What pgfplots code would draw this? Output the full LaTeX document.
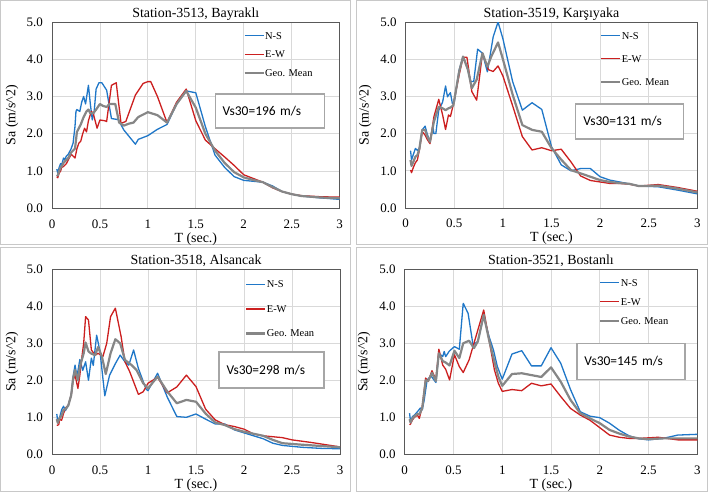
\documentclass[border=0pt]{standalone}
\usepackage{fontspec}
\setmainfont{Liberation Serif}
\newfontfamily\calibri{Carlito}
\usepackage{pgfplots}
\pgfplotsset{compat=1.18}
\definecolor{ns}{HTML}{1F77C8}
\definecolor{ew}{HTML}{CC1F1F}
\definecolor{gm}{HTML}{868686}
\definecolor{framec}{HTML}{C8C8C8}
\tikzset{vsbox/.style={draw=black!35, line width=1.2bp, fill=white, inner xsep=7.5bp, inner ysep=0pt,
    align=left, font=\calibri\fontsize{13.5}{13.5}\selectfont}}
\pgfplotsset{
  panel/.style={
    scale only axis, anchor=south west,
    xmin=0,xmax=3,ymin=0,ymax=5,
    xtick={0,0.5,1,1.5,2,2.5,3},
    xticklabels={0,0.5,1,1.5,2,2.5,3},
    ytick={0,1,2,3,4,5},
    yticklabels={0.0,1.0,2.0,3.0,4.0,5.0},
    major tick length=0pt,
    grid=major,
    major grid style={draw=black!15, line width=0.8bp},
    axis line style={draw=black!65, line width=0.9bp},
    tick label style={font=\fontsize{13}{13}\selectfont},
    xticklabel style={anchor=base, yshift=-20bp, inner sep=0pt},
    yticklabel style={anchor=east, inner sep=0pt, xshift=-9bp},
    xlabel={T (sec.)},
    ylabel={Sa (m/s\textasciicircum 2)},
    label style={font=\fontsize{14}{14}\selectfont},
    xlabel style={at={(axis description cs:0.5,0)}, anchor=base, yshift=-34bp, inner sep=0pt},
    ylabel style={at={(axis description cs:-0.139,0.5)}, anchor=center, inner sep=0pt},
    title style={at={(0.5,1)}, anchor=base, yshift=-1bp, inner sep=0pt, font=\fontsize{14}{14}\selectfont},
    legend cell align=left,
    legend image code/.code={\draw[##1] (0bp,0bp) -- (19bp,0bp);},
    legend style={draw=none, fill=none, inner sep=0pt, anchor=north west,
      font=\fontsize{10.5}{10.5}\selectfont,
      nodes={inner sep=0.5bp, text height=7bp, text depth=0bp}},
    clip mode=individual,
  },
  nsl/.style={color=ns, line width=1.3bp, line join=round},
  ewl/.style={color=ew, line width=1.3bp, line join=round},
  gml/.style={color=gm, line width=2.2bp, line join=round},
}
\begin{document}
\begin{tikzpicture}
\useasboundingbox (0,0) rectangle (708bp,492bp);
\fill[white] (0,0) rectangle (708bp,492bp);
\draw[framec, line width=1bp] (0.5bp,247bp) rectangle (350bp,491.5bp);
\draw[framec, line width=1bp] (356bp,247bp) rectangle (707.5bp,491.5bp);
\draw[framec, line width=1bp] (0.5bp,0.5bp) rectangle (350bp,244bp);
\draw[framec, line width=1bp] (356bp,0.5bp) rectangle (707.5bp,244bp);

% Panel 1
\begin{axis}[panel, at={(52bp,283.7bp)}, width=287.6bp, height=186.3bp,
  title={Station-3513, Bayraklı},
  legend style={at={(rel axis cs:0.665,0.949)}, row sep=10.5bp}]
\addplot[nsl] coordinates {(0.05,1.05)(0.06,0.95)(0.075,1.1)(0.09,1.2)(0.1,1.15)(0.11,1.25)(0.12,1.35)(0.13,1.3)(0.15,1.4)(0.17,1.45)(0.2,1.6)(0.22,1.75)(0.24,2.2)(0.25,2.6)(0.26,2.65)(0.29,2.6)(0.31,2.85)(0.33,3.0)(0.35,2.8)(0.38,3.3)(0.4,2.8)(0.42,2.37)(0.44,2.6)(0.46,3.2)(0.49,3.37)(0.52,3.37)(0.57,3.17)(0.62,2.41)(0.69,2.38)(0.75,2.1)(0.87,1.72)(0.9,1.85)(1.0,1.95)(1.1,2.12)(1.2,2.25)(1.3,2.8)(1.4,3.15)(1.5,3.1)(1.6,2.19)(1.7,1.43)(1.8,1.1)(1.9,0.85)(2.0,0.75)(2.2,0.7)(2.3,0.6)(2.4,0.45)(2.5,0.38)(2.6,0.33)(2.8,0.28)(3.0,0.24)};
\addlegendentry{N-S}
\addplot[ewl] coordinates {(0.05,0.85)(0.06,0.82)(0.075,0.95)(0.09,1.0)(0.1,1.1)(0.12,1.12)(0.15,1.2)(0.17,1.3)(0.2,1.45)(0.22,1.4)(0.24,1.35)(0.26,1.6)(0.28,1.75)(0.3,1.8)(0.32,2.0)(0.34,2.15)(0.36,2.05)(0.38,2.35)(0.41,2.6)(0.43,2.55)(0.45,2.35)(0.47,2.15)(0.5,2.37)(0.55,2.35)(0.57,2.33)(0.62,3.3)(0.67,3.37)(0.72,2.28)(0.77,2.33)(0.87,3.04)(0.95,3.35)(1.0,3.4)(1.03,3.4)(1.1,3.0)(1.2,2.3)(1.3,2.85)(1.4,3.2)(1.5,2.35)(1.6,1.83)(1.7,1.6)(1.8,1.38)(1.9,1.15)(2.0,0.9)(2.1,0.8)(2.2,0.7)(2.3,0.55)(2.4,0.45)(2.5,0.38)(2.6,0.34)(2.8,0.31)(3.0,0.3)};
\addlegendentry{E-W}
\addplot[gml] coordinates {(0.05,0.9)(0.06,0.88)(0.075,1.0)(0.09,1.1)(0.1,1.12)(0.12,1.22)(0.15,1.3)(0.17,1.35)(0.2,1.5)(0.22,1.55)(0.24,1.6)(0.26,2.05)(0.28,2.15)(0.3,2.25)(0.33,2.45)(0.36,2.6)(0.38,2.65)(0.4,2.55)(0.43,2.55)(0.46,2.65)(0.5,2.8)(0.53,2.75)(0.57,2.72)(0.6,2.8)(0.66,2.8)(0.7,2.3)(0.75,2.22)(0.8,2.27)(0.85,2.3)(0.9,2.45)(1.0,2.58)(1.1,2.5)(1.2,2.3)(1.3,2.8)(1.4,3.15)(1.5,2.7)(1.6,2.0)(1.7,1.55)(1.8,1.22)(1.9,0.97)(2.0,0.83)(2.1,0.76)(2.2,0.7)(2.3,0.57)(2.4,0.45)(2.5,0.38)(2.6,0.33)(2.8,0.29)(3.0,0.27)};
\addlegendentry{Geo. Mean}
\node[vsbox, text width=94bp, minimum height=34bp] at (axis cs:2.27,2.61) {Vs30=196 m/s};
\end{axis}

% Panel 2
\begin{axis}[panel, at={(405.7bp,284bp)}, width=291.6bp, height=186bp,
  title={Station-3519, Karşıyaka},
  legend style={at={(rel axis cs:0.666,0.949)}, row sep=15bp}]
\addplot[nsl] coordinates {(0.05,1.54)(0.06,1.29)(0.08,1.45)(0.1,1.6)(0.12,1.55)(0.14,1.6)(0.17,2.1)(0.2,2.2)(0.22,2.0)(0.25,1.78)(0.28,2.2)(0.29,2.0)(0.31,2.0)(0.34,2.63)(0.38,2.85)(0.41,3.28)(0.43,2.99)(0.46,3.1)(0.48,2.81)(0.5,2.85)(0.55,3.71)(0.59,4.07)(0.63,3.8)(0.67,3.4)(0.7,3.4)(0.74,4.27)(0.79,4.16)(0.84,3.66)(0.9,4.6)(0.95,5.0)(1.0,4.55)(1.1,3.4)(1.2,2.63)(1.3,2.83)(1.4,2.65)(1.5,1.65)(1.6,1.16)(1.7,1.0)(1.8,1.06)(1.9,1.06)(2.0,0.84)(2.1,0.75)(2.2,0.7)(2.3,0.65)(2.4,0.59)(2.6,0.57)(2.8,0.48)(3.0,0.38)};
\addlegendentry{N-S}
\addplot[ewl] coordinates {(0.05,1.02)(0.06,0.95)(0.08,1.1)(0.1,1.22)(0.12,1.29)(0.14,1.55)(0.17,2.05)(0.2,1.96)(0.22,1.85)(0.25,1.73)(0.29,2.45)(0.34,2.92)(0.38,2.5)(0.41,2.11)(0.44,2.5)(0.46,2.46)(0.49,2.78)(0.55,3.58)(0.59,4.05)(0.63,4.05)(0.68,3.13)(0.73,2.9)(0.79,4.16)(0.85,3.72)(0.9,3.67)(0.95,3.82)(1.0,3.55)(1.1,2.75)(1.2,1.92)(1.3,1.56)(1.4,1.62)(1.5,1.54)(1.6,1.58)(1.7,1.24)(1.8,0.86)(1.9,0.74)(2.0,0.7)(2.1,0.66)(2.2,0.66)(2.3,0.64)(2.4,0.59)(2.6,0.63)(2.8,0.55)(3.0,0.45)};
\addlegendentry{E-W}
\addplot[gml] coordinates {(0.05,1.29)(0.06,1.13)(0.08,1.25)(0.1,1.38)(0.12,1.42)(0.14,1.58)(0.17,2.1)(0.2,2.1)(0.22,1.93)(0.25,1.78)(0.29,2.32)(0.34,2.72)(0.38,2.68)(0.41,2.63)(0.44,2.68)(0.46,2.7)(0.49,2.76)(0.55,3.67)(0.59,4.07)(0.64,3.72)(0.68,3.22)(0.73,3.45)(0.79,4.16)(0.84,3.8)(0.88,4.07)(0.95,4.45)(1.0,4.0)(1.1,3.05)(1.2,2.23)(1.3,2.1)(1.4,2.05)(1.5,1.61)(1.6,1.3)(1.7,1.02)(1.8,0.93)(1.9,0.84)(2.0,0.75)(2.1,0.7)(2.2,0.67)(2.3,0.65)(2.4,0.59)(2.6,0.6)(2.8,0.52)(3.0,0.42)};
\addlegendentry{Geo. Mean}
\node[vsbox, text width=93bp, minimum height=35bp] at (axis cs:2.306,2.325) {Vs30=131 m/s};
\end{axis}

% Panel 3
\begin{axis}[panel, at={(52bp,37.7bp)}, width=288bp, height=185bp,
  title={Station-3518, Alsancak},
  legend style={at={(rel axis cs:0.670,0.941)}, row sep=16.5bp}]
\addplot[nsl] coordinates {(0.05,1.09)(0.06,0.88)(0.08,1.0)(0.1,1.2)(0.12,1.3)(0.14,1.18)(0.17,1.33)(0.2,1.6)(0.22,2.1)(0.24,2.41)(0.26,2.1)(0.29,2.56)(0.32,2.27)(0.35,2.5)(0.38,2.0)(0.41,2.6)(0.43,2.4)(0.465,3.22)(0.5,2.78)(0.55,1.58)(0.6,2.14)(0.66,2.45)(0.71,2.68)(0.76,2.5)(0.8,2.41)(0.85,2.82)(0.9,2.32)(0.98,1.76)(1.0,1.72)(1.1,2.19)(1.2,1.55)(1.3,1.02)(1.4,1.0)(1.5,1.09)(1.6,0.95)(1.7,0.82)(1.8,0.82)(1.9,0.66)(2.0,0.58)(2.1,0.5)(2.2,0.42)(2.3,0.3)(2.4,0.24)(2.6,0.19)(2.8,0.16)(3.0,0.15)};
\addlegendentry{N-S}
\addplot[ewl] coordinates {(0.05,0.78)(0.07,0.8)(0.08,0.95)(0.1,0.92)(0.12,1.1)(0.14,1.25)(0.17,1.33)(0.2,1.6)(0.22,2.0)(0.24,2.14)(0.27,1.78)(0.29,2.14)(0.31,2.6)(0.33,3.0)(0.35,3.72)(0.38,3.63)(0.41,2.82)(0.45,2.68)(0.48,2.73)(0.53,2.64)(0.57,3.0)(0.61,3.72)(0.66,3.95)(0.72,3.18)(0.76,2.5)(0.81,2.23)(0.9,1.62)(0.95,1.69)(1.0,1.92)(1.1,2.08)(1.2,1.66)(1.3,1.82)(1.4,2.14)(1.5,1.83)(1.6,1.22)(1.7,0.93)(1.8,0.8)(1.9,0.75)(2.0,0.68)(2.1,0.55)(2.2,0.5)(2.4,0.45)(2.5,0.39)(2.7,0.32)(3.0,0.2)};
\addlegendentry{E-W}
\addplot[gml] coordinates {(0.05,0.95)(0.06,0.85)(0.08,0.98)(0.1,1.05)(0.12,1.2)(0.14,1.22)(0.17,1.32)(0.2,1.6)(0.22,2.05)(0.24,2.28)(0.27,2.0)(0.29,2.35)(0.31,2.55)(0.33,2.73)(0.35,3.02)(0.38,2.78)(0.41,2.72)(0.45,2.68)(0.48,2.9)(0.52,2.64)(0.56,2.17)(0.61,2.73)(0.66,3.11)(0.71,3.0)(0.76,2.55)(0.83,2.41)(0.88,2.28)(0.95,1.92)(1.0,1.78)(1.1,2.1)(1.2,1.7)(1.3,1.38)(1.4,1.47)(1.5,1.42)(1.6,1.1)(1.7,0.86)(1.8,0.79)(1.9,0.68)(2.0,0.61)(2.2,0.5)(2.3,0.39)(2.4,0.3)(2.6,0.26)(3.0,0.19)};
\addlegendentry{Geo. Mean}
\node[vsbox, text width=90bp, minimum height=36bp] at (axis cs:2.287,2.28) {Vs30=298 m/s};
\end{axis}

% Panel 4
\begin{axis}[panel, at={(404.7bp,37.7bp)}, width=292.6bp, height=185bp,
  title={Station-3521, Bostanlı},
  legend style={at={(rel axis cs:0.664,0.950)}, row sep=11bp}]
\addplot[nsl] coordinates {(0.05,1.11)(0.06,0.88)(0.08,1.02)(0.1,1.06)(0.12,1.12)(0.14,1.18)(0.16,1.25)(0.18,1.2)(0.2,1.47)(0.23,2.01)(0.27,2.12)(0.3,2.01)(0.32,1.94)(0.35,2.73)(0.39,2.64)(0.405,2.78)(0.42,2.64)(0.455,2.78)(0.47,2.82)(0.51,2.91)(0.56,2.84)(0.6,4.08)(0.65,3.81)(0.7,2.96)(0.75,3.05)(0.81,3.74)(0.865,3.18)(0.91,2.82)(0.95,2.37)(1.0,2.03)(1.1,2.71)(1.2,2.8)(1.3,2.39)(1.4,2.39)(1.5,2.88)(1.6,2.46)(1.7,1.75)(1.8,1.15)(1.9,1.03)(2.0,0.99)(2.1,0.84)(2.2,0.65)(2.3,0.5)(2.4,0.42)(2.5,0.39)(2.65,0.43)(2.8,0.52)(3.0,0.54)};
\addlegendentry{N-S}
\addplot[ewl] coordinates {(0.05,0.8)(0.06,0.82)(0.08,0.93)(0.1,1.0)(0.13,1.06)(0.15,0.97)(0.18,1.29)(0.215,2.06)(0.24,1.97)(0.28,2.26)(0.32,2.01)(0.35,2.84)(0.39,2.41)(0.42,2.3)(0.46,2.01)(0.51,2.69)(0.56,2.37)(0.6,2.21)(0.66,2.55)(0.73,3.18)(0.81,3.9)(0.865,3.09)(0.92,2.28)(0.96,1.92)(1.0,1.7)(1.1,1.75)(1.2,1.72)(1.3,1.92)(1.4,1.85)(1.5,1.9)(1.6,1.56)(1.7,1.24)(1.8,1.06)(1.9,0.92)(2.0,0.72)(2.1,0.52)(2.2,0.46)(2.3,0.43)(2.4,0.43)(2.6,0.46)(2.8,0.39)(3.0,0.39)};
\addlegendentry{E-W}
\addplot[gml] coordinates {(0.05,0.95)(0.06,0.86)(0.08,0.97)(0.1,1.03)(0.13,1.09)(0.15,1.08)(0.18,1.25)(0.215,2.0)(0.24,1.98)(0.28,2.2)(0.32,1.98)(0.35,2.73)(0.39,2.52)(0.42,2.48)(0.46,2.4)(0.51,2.8)(0.56,2.6)(0.6,3.0)(0.66,3.07)(0.71,2.87)(0.75,3.05)(0.81,3.77)(0.865,3.09)(0.92,2.5)(0.96,2.1)(1.0,1.85)(1.1,2.17)(1.2,2.19)(1.3,2.14)(1.4,2.09)(1.5,2.35)(1.6,1.96)(1.7,1.47)(1.8,1.11)(1.9,0.97)(2.0,0.84)(2.1,0.66)(2.2,0.56)(2.3,0.48)(2.4,0.43)(2.5,0.41)(2.65,0.43)(2.8,0.43)(3.0,0.43)};
\addlegendentry{Geo. Mean}
\node[vsbox, text width=93bp, minimum height=36bp] at (axis cs:2.32,2.51) {Vs30=145 m/s};
\end{axis}
\end{tikzpicture}
\end{document}
